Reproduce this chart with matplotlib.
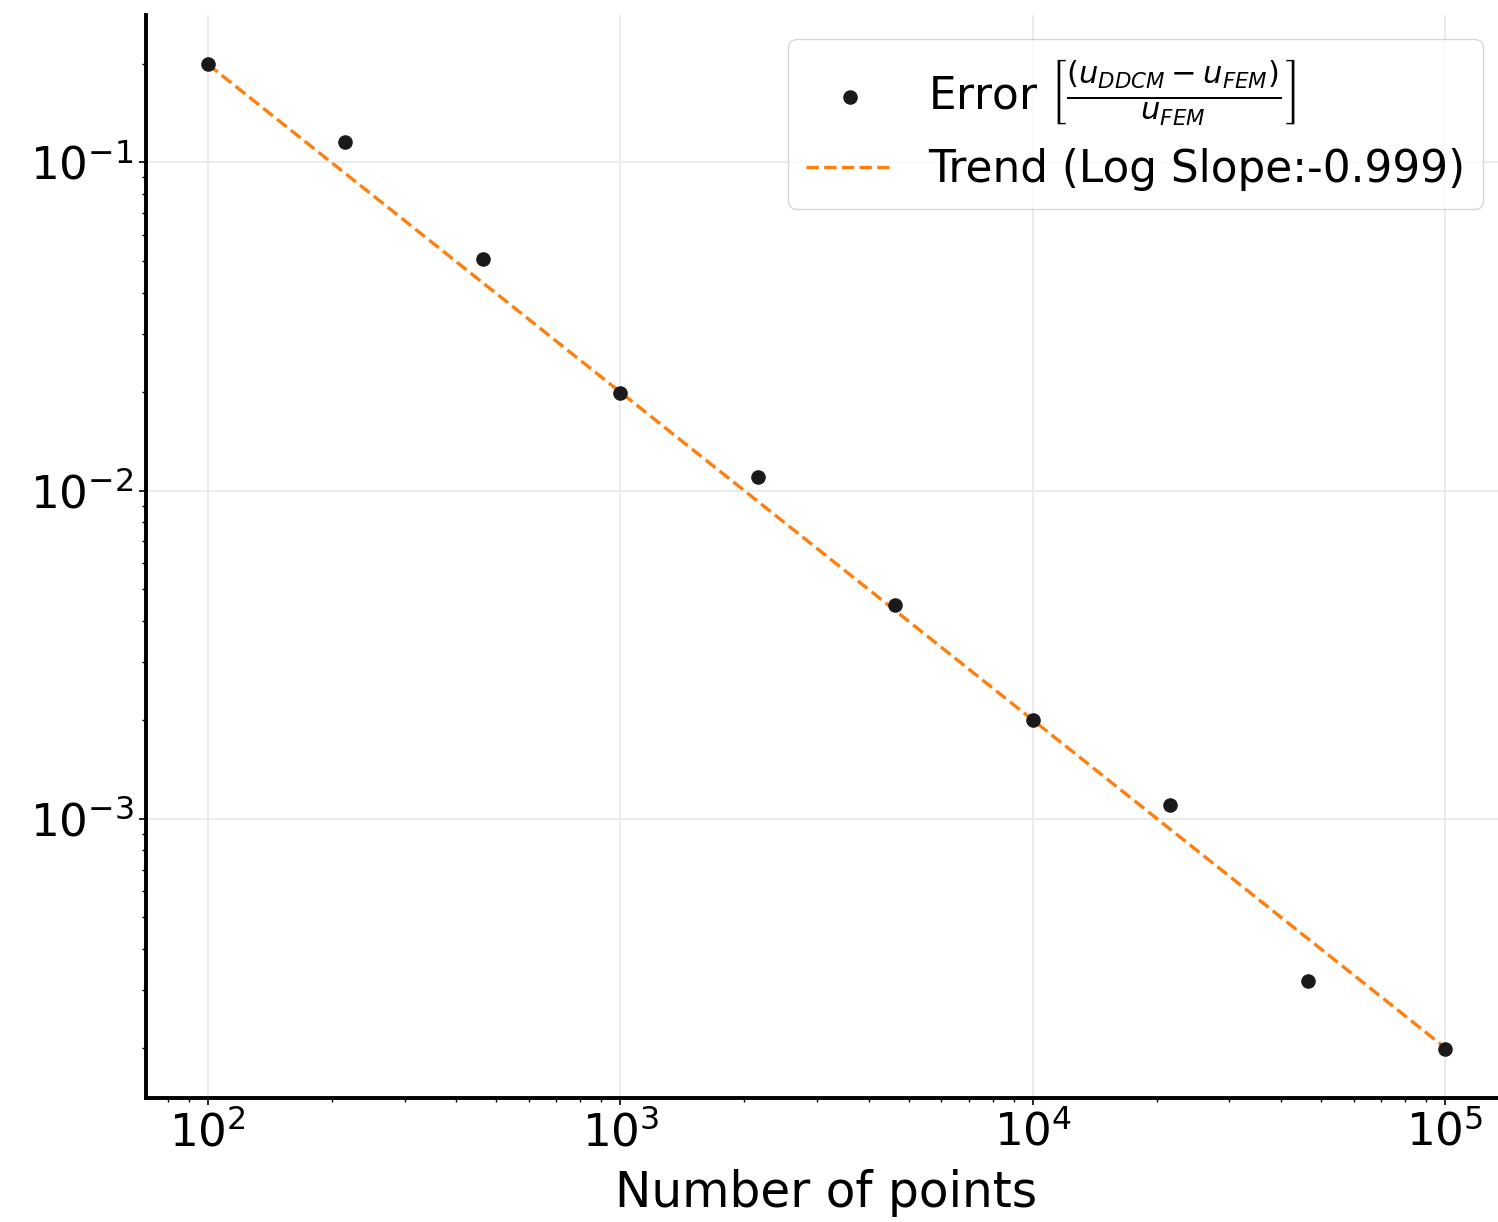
import numpy as np
import matplotlib
matplotlib.use("Agg")
import matplotlib.pyplot as plt

# Data
n_points = [100, 215, 464, 1000, 2154, 4642, 10000, 21544, 46416, 100000]
errors = [0.199, 0.115, 0.0509, 0.0198, 0.0110, 0.00449, 0.00200, 0.00110, 0.00032, 0.000199]
trend_slope = -0.999
trend_intercept = 1.297   # log10 intercept of trend line
slope_label = "-0.999"

x = np.array(n_points, dtype=float)
y = np.array(errors, dtype=float)
trend = 10 ** (trend_intercept + trend_slope * np.log10(x))

fig = plt.figure(figsize=(14.98, 12.22), dpi=100)
ax = fig.add_axes([146/1498, 124/1222, 1361/1498, 1083/1222])

ax.scatter(x, y, s=90, color='#1a1a1a', zorder=3,
           label=r'Error $\left[\frac{(u_{DDCM} - u_{FEM})}{u_{FEM}}\right]$')
ax.plot(x, trend, linestyle='--', color='#ff7f0e', linewidth=2.4,
        label=f'Trend (Log Slope:{slope_label})', zorder=2)

ax.set_xscale('log')
ax.set_yscale('log')
ax.grid(True, which='major', color='#ebebeb', linewidth=1.5)
ax.set_axisbelow(True)

for s in ['top', 'right']:
    ax.spines[s].set_visible(False)
for s in ['left', 'bottom']:
    ax.spines[s].set_linewidth(2.8)

ax.tick_params(axis='both', which='major', labelsize=32.5, length=5, width=1.2, pad=4)
ax.tick_params(axis='both', which='minor', length=3, width=1)
ax.set_xlabel('Number of points', fontsize=35, labelpad=10)

ax.legend(loc='upper right', fontsize=31.5, frameon=True, fancybox=True,
          edgecolor='#cccccc', framealpha=0.8, scatterpoints=1,
          borderaxespad=0.55)

fig.savefig('out.png', dpi=100)
